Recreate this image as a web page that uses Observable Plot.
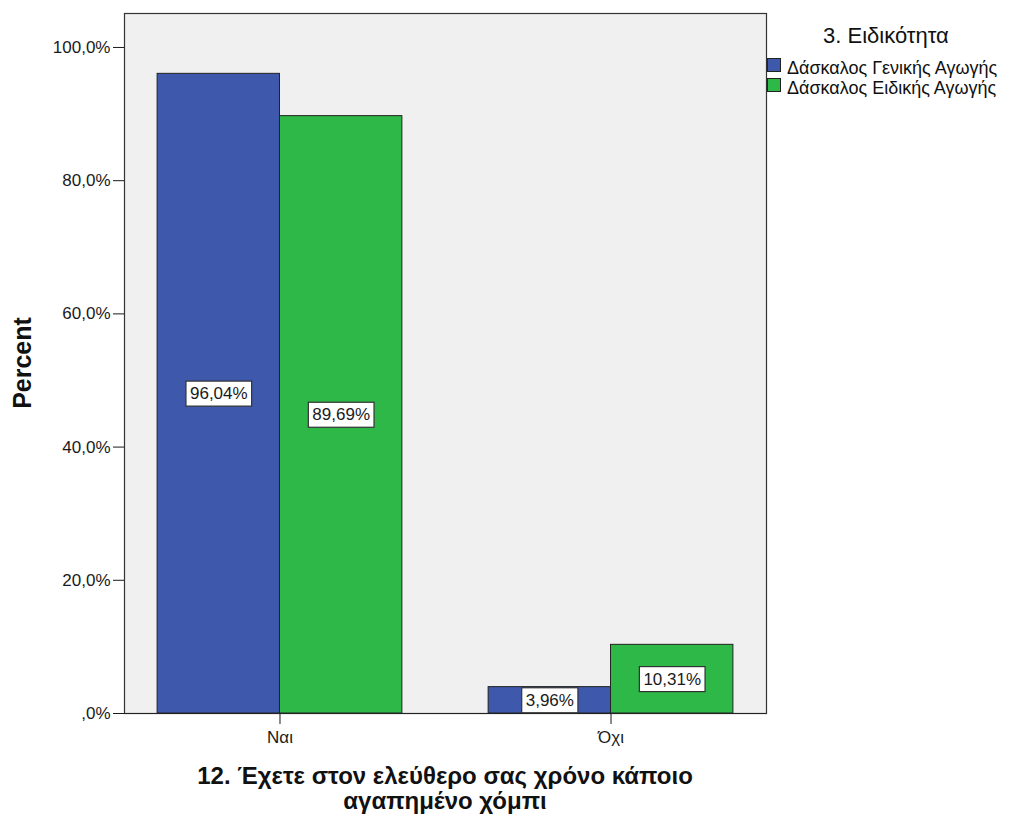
<!DOCTYPE html>
<html>
<head>
<meta charset="utf-8">
<script src="https://cdn.jsdelivr.net/npm/d3@7"></script>
<script src="https://cdn.jsdelivr.net/npm/@observablehq/plot@0.6"></script>
<style>
  body { margin: 0; background: white; font-family: "Liberation Sans", Arial, sans-serif; }
  #wrap { position: relative; width: 1011px; height: 816px; }
  .abs { position: absolute; color: #111; white-space: nowrap; }
  .sw { position: absolute; width: 12px; height: 12px; border: 1px solid #222; }
</style>
</head>
<body>
<div id="wrap"></div>
<script>
// ---- data ----
const categories = ["Ναι", "Όχι"];
const series = ["Δάσκαλος Γενικής Αγωγής", "Δάσκαλος Ειδικής Αγωγής"];
const valuesGeniki = [96.04, 3.96];
const valuesEidiki = [89.69, 10.31];
const yTicks = [0, 20, 40, 60, 80, 100];
const yTickLabels = [",0%", "20,0%", "40,0%", "60,0%", "80,0%", "100,0%"];
const legendTitle = "3. Ειδικότητα";
const yTitle = "Percent";
const xTitleLines = ["12. Έχετε στον ελεύθερο σας χρόνο κάποιο", "αγαπημένο χόμπι"];
const colors = ["#3e58ac", "#2eb848"];

const rows = [];
categories.forEach((c, i) => {
  rows.push({cat: c, series: series[0], value: valuesGeniki[i]});
  rows.push({cat: c, series: series[1], value: valuesEidiki[i]});
});
const fmt = v => v.toFixed(2).replace(".", ",") + "%";

// ---- layout ----
const W = 1011, H = 816;
const mL = 124, mR = 245, mT = 13, mB = 103;
const pIn = 0.2606, pOut = 0.1;
const plotW = W - mL - mR;
const step = plotW / (categories.length - pIn + 2 * pOut);
const bw = step * (1 - pIn);
const half = bw / 2;

const chart = Plot.plot({
  width: W, height: H,
  marginLeft: mL, marginRight: mR, marginTop: mT, marginBottom: mB,
  style: {fontFamily: "'Liberation Sans', Arial, sans-serif", fontSize: "17px", background: "white", color: "#1a1a1a", overflow: "visible"},
  x: {type: "band", domain: categories, paddingInner: pIn, paddingOuter: pOut, round: false, tickSize: 11, tickPadding: 6, label: null},
  y: {domain: [0, 105.1], ticks: yTicks, tickFormat: d => yTickLabels[yTicks.indexOf(d)], tickSize: 11, tickPadding: 3, label: null},
  marks: [
    Plot.frame({fill: "#f0f0f0", stroke: "#333", strokeWidth: 1.2}),
    Plot.barY(rows.filter(d => d.series === series[0]), {x: "cat", y: "value", fill: colors[0], stroke: "#222", strokeWidth: 1, insetRight: half}),
    Plot.barY(rows.filter(d => d.series === series[1]), {x: "cat", y: "value", fill: colors[1], stroke: "#222", strokeWidth: 1, insetLeft: half}),
    Plot.ruleY([0], {stroke: "#222", strokeWidth: 1.2}),
    Plot.text(rows.filter(d => d.series === series[0]), {x: "cat", y: d => d.value / 2, text: d => fmt(d.value), dx: -half / 2, fontSize: 17, fill: "#1a1a1a", className: "vlabel"}),
    Plot.text(rows.filter(d => d.series === series[1]), {x: "cat", y: d => d.value / 2, text: d => fmt(d.value), dx: half / 2, fontSize: 17, fill: "#1a1a1a", className: "vlabel"})
  ]
});
const wrap = document.getElementById("wrap");
wrap.appendChild(chart);

// boxes behind value labels
chart.querySelectorAll("g.vlabel text").forEach(t => {
  const b = t.getBBox();
  const r = document.createElementNS("http://www.w3.org/2000/svg", "rect");
  r.setAttribute("x", b.x - 4); r.setAttribute("y", b.y - 3);
  r.setAttribute("width", b.width + 8); r.setAttribute("height", b.height + 6);
  r.setAttribute("fill", "white"); r.setAttribute("stroke", "#333"); r.setAttribute("stroke-width", "1.2");
  const tr = t.getAttribute("transform");
  if (tr) r.setAttribute("transform", tr);
  t.parentNode.insertBefore(r, t);
});

// y title
const yt = document.createElement("div");
yt.className = "abs";
yt.textContent = yTitle;
yt.style.cssText += "font-weight:bold;font-size:25px;line-height:28px;left:22px;top:363px;transform:translate(-50%,-50%) rotate(-90deg);";
wrap.appendChild(yt);

// x title
const xt = document.createElement("div");
xt.className = "abs";
xt.innerHTML = xTitleLines.join("<br>");
xt.style.cssText += "font-weight:bold;font-size:24px;line-height:25px;text-align:center;left:445px;top:763px;transform:translateX(-50%);";
wrap.appendChild(xt);

// legend
const lt = document.createElement("div");
lt.className = "abs";
lt.textContent = legendTitle;
lt.style.cssText += "font-size:22px;line-height:26px;left:823px;top:23px;";
wrap.appendChild(lt);
series.forEach((s, i) => {
  const sw = document.createElement("div");
  sw.className = "sw";
  sw.style.cssText += `left:767px;top:${58 + i * 20}px;background:${colors[i]};`;
  wrap.appendChild(sw);
  const it = document.createElement("div");
  it.className = "abs";
  it.style.cssText += `font-size:18px;line-height:20px;left:787px;top:${58 + i * 19.5}px;`;
  it.textContent = s;
  wrap.appendChild(it);
});
</script>
</body>
</html>
